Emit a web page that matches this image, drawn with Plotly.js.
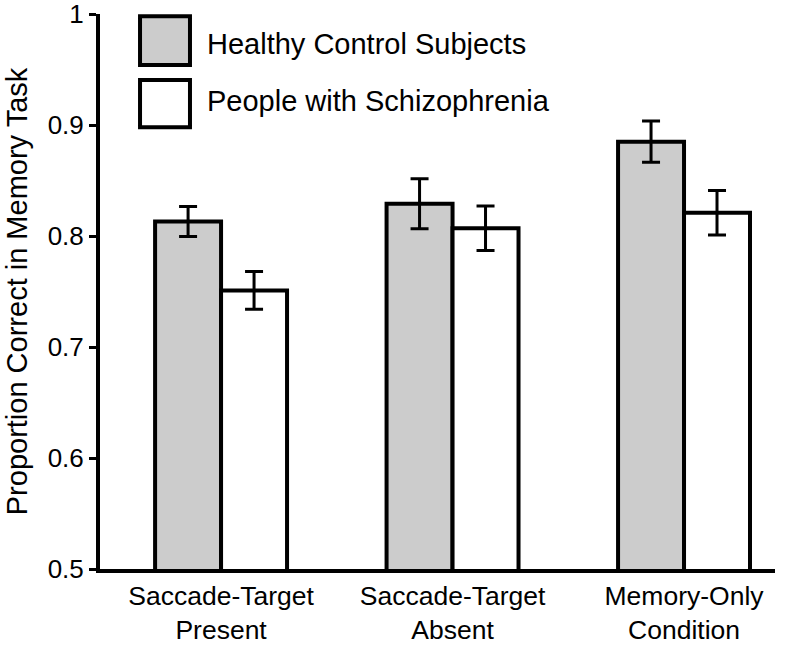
<!DOCTYPE html>
<html>
<head>
<meta charset="utf-8">
<script src="https://cdn.plot.ly/plotly-3.0.1.min.js"></script>
<style>html,body{margin:0;padding:0;background:#fff;}#chart{width:800px;height:649px;}</style>
</head>
<body>
<div id="chart"></div>
<script>
const categories = ['Saccade-Target<br>Present', 'Saccade-Target<br>Absent', 'Memory-Only<br>Condition'];
const seriesNames = ['Healthy Control Subjects', 'People with Schizophrenia'];
const controlValues = [0.813, 0.829, 0.885];
const controlErrors = [0.0135, 0.0225, 0.0186];
const schizValues = [0.751, 0.807, 0.821];
const schizErrors = [0.017, 0.020, 0.020];
const yTickValues = [0.5, 0.6, 0.7, 0.8, 0.9, 1];
const yTickLabels = ['0.5', '0.6', '0.7', '0.8', '0.9', '1'];
const seriesColors = ['#cccccc', '#ffffff'];

const regular = '"Liberation Sans", Arial, Helvetica, sans-serif';

const traces = [
  {
    type: 'bar', name: seriesNames[0], x: categories, y: controlValues,
    marker: {color: seriesColors[0], line: {color: '#000', width: 4}},
    error_y: {type: 'data', array: controlErrors, visible: true, color: '#000', thickness: 3, width: 9},
    showlegend: false
  },
  {
    type: 'bar', name: seriesNames[1], x: categories, y: schizValues,
    marker: {color: seriesColors[1], line: {color: '#000', width: 4}},
    error_y: {type: 'data', array: schizErrors, visible: true, color: '#000', thickness: 3, width: 9},
    showlegend: false
  }
];

// Legend drawn as large boxes (paper coords)
const legendShapes = seriesNames.map((n, i) => ({
  type: 'rect', xref: 'paper', yref: 'paper',
  x0: 0.0593, x1: 0.1333,
  y0: i === 0 ? 0.908 : 0.796, y1: i === 0 ? 0.996 : 0.881,
  fillcolor: seriesColors[i], line: {color: '#000', width: 4}
}));
const legendText = seriesNames.map((n, i) => ({
  text: n, xref: 'paper', yref: 'paper', x: 0.1556, y: i === 0 ? 0.946 : 0.843,
  xanchor: 'left', yanchor: 'middle', showarrow: false,
  font: {family: regular, size: 29, color: '#000'}
}));

const layout = {
  width: 800, height: 649,
  margin: {l: 100, r: 25, t: 14, b: 80},
  paper_bgcolor: '#fff', plot_bgcolor: '#fff',
  barmode: 'group', bargap: 0.43, bargroupgap: 0,
  xaxis: {
    type: 'category', range: [-0.523, 2.393],
    showline: true, linecolor: '#000', linewidth: 4,
    ticks: '', showgrid: false, zeroline: false,
    tickfont: {family: regular, size: 26.5, color: '#000'}
  },
  yaxis: {
    range: [0.5, 1], tickvals: yTickValues, ticktext: yTickLabels,
    showline: true, linecolor: '#000', linewidth: 4,
    ticks: 'outside', ticklen: 7, tickwidth: 3, tickcolor: '#000',
    ticklabeloverflow: 'allow',
    showgrid: false, zeroline: false,
    tickfont: {family: regular, size: 26, color: '#000'},
    title: {text: 'Proportion Correct in Memory Task', font: {family: regular, size: 29, color: '#000'}, standoff: 12}
  },
  shapes: legendShapes,
  annotations: legendText
};

Plotly.newPlot('chart', traces, layout, {displayModeBar: false, staticPlot: true});
</script>
</body>
</html>
